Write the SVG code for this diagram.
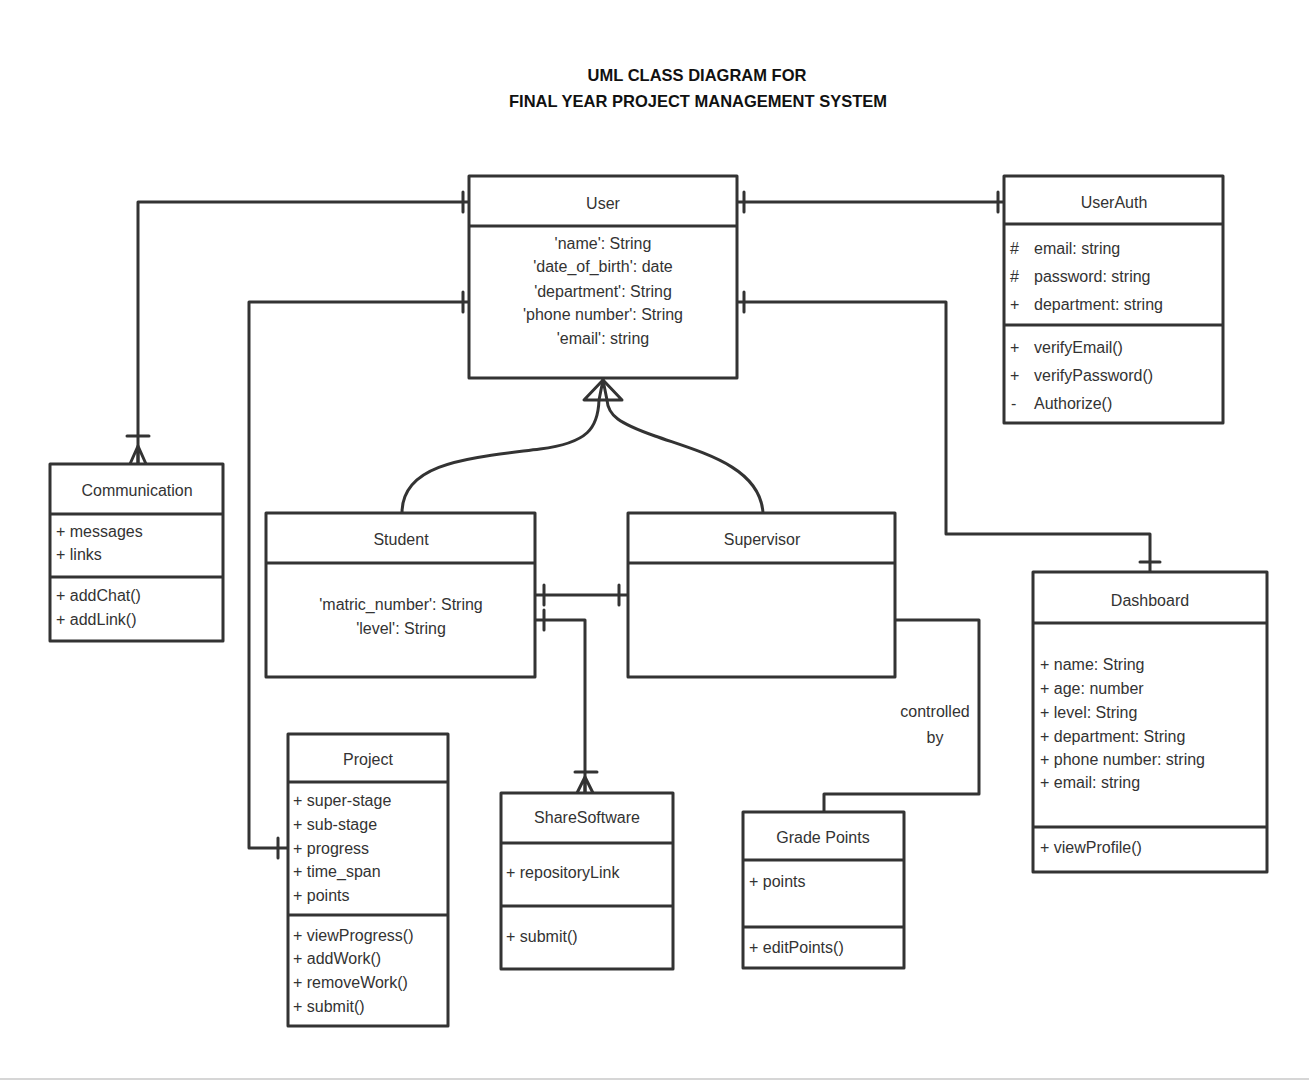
<svg xmlns="http://www.w3.org/2000/svg" width="1309" height="1080" viewBox="0 0 1309 1080">
<style>
.box{fill:#fff;stroke:#333;stroke-width:3;stroke-linejoin:round}
.div{stroke:#333;stroke-width:3}
.ln{fill:none;stroke:#333;stroke-width:3;stroke-linejoin:round;stroke-linecap:round}
text{font-family:"Liberation Sans",Arial,sans-serif;font-size:16px;fill:#333;dominant-baseline:central}
.c{text-anchor:middle}
.t{font-weight:bold;font-size:16.5px;fill:#111}
</style>
<rect width="1309" height="1080" fill="#fff"/>
<line x1="0" y1="1079" x2="1309" y2="1079" stroke="#d6d6d6" stroke-width="2"/>
<g id="title">
<text class="c t" x="697" y="75">UML CLASS DIAGRAM FOR</text>
<text class="c t" x="698" y="101">FINAL YEAR PROJECT MANAGEMENT SYSTEM</text>
</g>
<g id="connectors">
<path class="ln" d="M469,202 H138 V464"/>
<path class="ln" d="M463,192 V212"/>
<path class="ln" d="M127,436 H149"/>
<path class="ln" d="M138,446 L130,464 M138,446 L146,464 M138,446 V464"/>
<path class="ln" d="M469,302 H249 V848 H288"/>
<path class="ln" d="M463,292 V312"/>
<path class="ln" d="M278,838 V858"/>
<path class="ln" d="M737,202 H1004"/>
<path class="ln" d="M744,192 V212"/>
<path class="ln" d="M998,192 V212"/>
<path class="ln" d="M737,302 H946 V534 H1150 V572"/>
<path class="ln" d="M744,292 V312"/>
<path class="ln" d="M1140,562 H1160"/>
<path class="ln" d="M402,513 C402,462 470,458 540,449 C588,443 598,428 599,400 L603,380"/>
<path class="ln" d="M763,513 C760,466 700,452 655,436 C618,423 608,415 607,400 L603,380"/>
<path class="ln" d="M603,380 L584,400 H622 Z"/>
<path class="ln" d="M535,595 H628"/>
<path class="ln" d="M544,585 V605"/>
<path class="ln" d="M619,585 V605"/>
<path class="ln" d="M535,620 H585 V793"/>
<path class="ln" d="M544,610 V630"/>
<path class="ln" d="M575,772 H597"/>
<path class="ln" d="M585,777 L577,793 M585,777 L593,793 M585,777 V793"/>
<path class="ln" d="M895,620 H979 V794 H824 V812"/>
<text class="c" x="935" y="711">controlled</text>
<text class="c" x="935" y="737">by</text>
</g>
<g id="User">
<rect class="box" x="469" y="176" width="268" height="202"/>
<line class="div" x1="469" y1="226" x2="737" y2="226"/>
<text class="c" x="603" y="203">User</text>
<text class="c" x="603" y="243">'name': String</text>
<text class="c" x="603" y="266">'date_of_birth': date</text>
<text class="c" x="603" y="291">'department': String</text>
<text class="c" x="603" y="314">'phone number': String</text>
<text class="c" x="603" y="338">'email': string</text>
</g>
<g id="UserAuth">
<rect class="box" x="1004" y="176" width="219" height="247"/>
<line class="div" x1="1004" y1="224" x2="1223" y2="224"/>
<line class="div" x1="1004" y1="325" x2="1223" y2="325"/>
<text class="c" x="1114" y="202">UserAuth</text>
<text x="1010" y="248">#</text><text x="1034" y="248">email: string</text>
<text x="1010" y="276">#</text><text x="1034" y="276">password: string</text>
<text x="1010" y="304">+</text><text x="1034" y="304">department: string</text>
<text x="1010" y="347">+</text><text x="1034" y="347">verifyEmail()</text>
<text x="1010" y="375">+</text><text x="1034" y="375">verifyPassword()</text>
<text x="1011" y="403">-</text><text x="1034" y="403">Authorize()</text>
</g>
<g id="Communication">
<rect class="box" x="50" y="464" width="173" height="177"/>
<line class="div" x1="50" y1="514" x2="223" y2="514"/>
<line class="div" x1="50" y1="577" x2="223" y2="577"/>
<text class="c" x="137" y="490">Communication</text>
<text x="56" y="531">+ messages</text>
<text x="56" y="554">+ links</text>
<text x="56" y="595">+ addChat()</text>
<text x="56" y="619">+ addLink()</text>
</g>
<g id="Student">
<rect class="box" x="266" y="513" width="269" height="164"/>
<line class="div" x1="266" y1="563" x2="535" y2="563"/>
<text class="c" x="401" y="539">Student</text>
<text class="c" x="401" y="604">'matric_number': String</text>
<text class="c" x="401" y="628">'level': String</text>
</g>
<g id="Supervisor">
<rect class="box" x="628" y="513" width="267" height="164"/>
<line class="div" x1="628" y1="563" x2="895" y2="563"/>
<text class="c" x="762" y="539">Supervisor</text>
</g>
<g id="Dashboard">
<rect class="box" x="1033" y="572" width="234" height="300"/>
<line class="div" x1="1033" y1="623" x2="1267" y2="623"/>
<line class="div" x1="1033" y1="827" x2="1267" y2="827"/>
<text class="c" x="1150" y="600">Dashboard</text>
<text x="1040" y="664">+ name: String</text>
<text x="1040" y="688">+ age: number</text>
<text x="1040" y="712">+ level: String</text>
<text x="1040" y="736">+ department: String</text>
<text x="1040" y="759">+ phone number: string</text>
<text x="1040" y="782">+ email: string</text>
<text x="1040" y="847">+ viewProfile()</text>
</g>
<g id="Project">
<rect class="box" x="288" y="734" width="160" height="292"/>
<line class="div" x1="288" y1="782" x2="448" y2="782"/>
<line class="div" x1="288" y1="915" x2="448" y2="915"/>
<text class="c" x="368" y="759">Project</text>
<text x="293" y="800">+ super-stage</text>
<text x="293" y="824">+ sub-stage</text>
<text x="293" y="848">+ progress</text>
<text x="293" y="871">+ time_span</text>
<text x="293" y="895">+ points</text>
<text x="293" y="935">+ viewProgress()</text>
<text x="293" y="958">+ addWork()</text>
<text x="293" y="982">+ removeWork()</text>
<text x="293" y="1006">+ submit()</text>
</g>
<g id="ShareSoftware">
<rect class="box" x="501" y="793" width="172" height="176"/>
<line class="div" x1="501" y1="843" x2="673" y2="843"/>
<line class="div" x1="501" y1="906" x2="673" y2="906"/>
<text class="c" x="587" y="817">ShareSoftware</text>
<text x="506" y="872">+ repositoryLink</text>
<text x="506" y="936">+ submit()</text>
</g>
<g id="GradePoints">
<rect class="box" x="743" y="812" width="161" height="156"/>
<line class="div" x1="743" y1="860" x2="904" y2="860"/>
<line class="div" x1="743" y1="927" x2="904" y2="927"/>
<text class="c" x="823" y="837">Grade Points</text>
<text x="749" y="881">+ points</text>
<text x="749" y="947">+ editPoints()</text>
</g>
</svg>
